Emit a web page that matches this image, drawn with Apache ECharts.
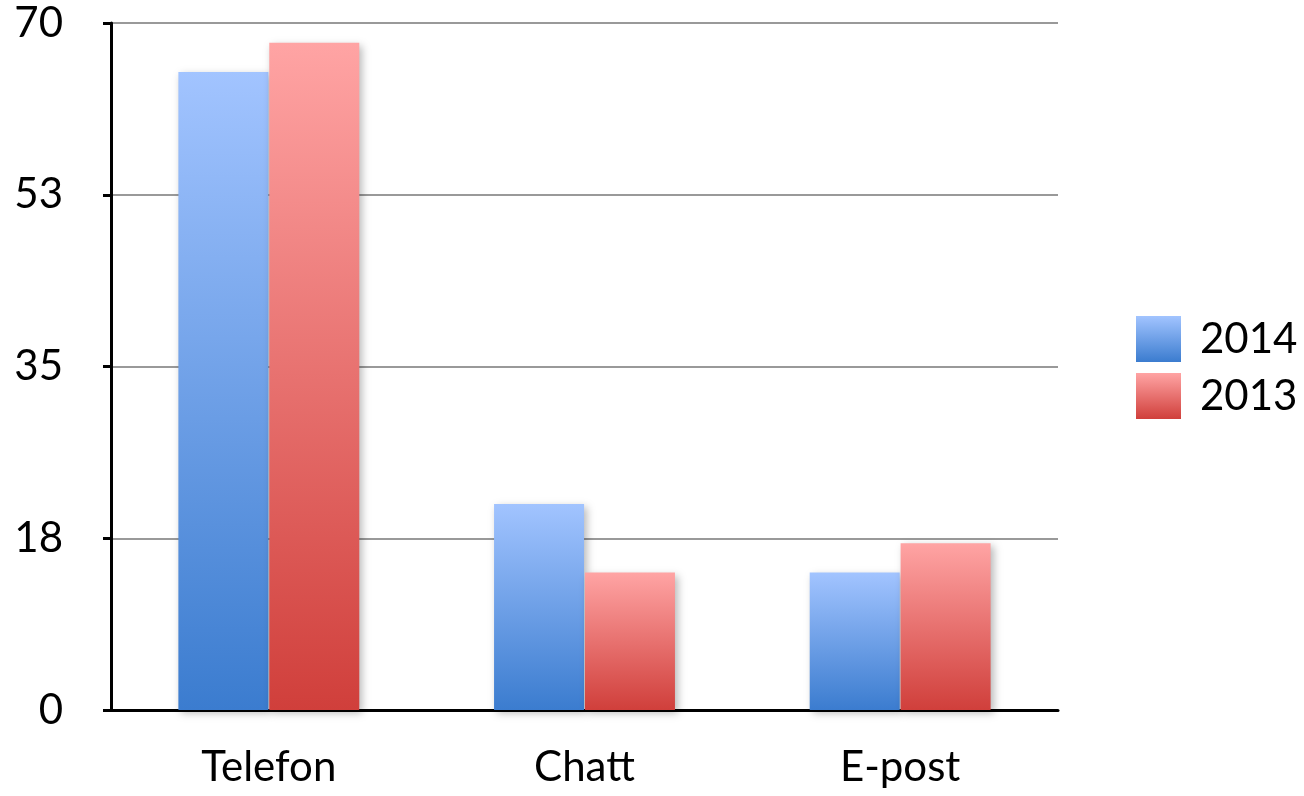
<!DOCTYPE html>
<html>
<head>
<meta charset="utf-8">
<style>
  html, body { margin: 0; padding: 0; background: #fff; }
  #chart { width: 1304px; height: 796px; }
</style>
<script src="https://cdn.jsdelivr.net/npm/echarts@6/dist/echarts.min.js"></script>
</head>
<body>
<div id="chart"></div>
<script>
// Contact channels and yearly values
const categories = ['Telefon', 'Chatt', 'E-post'];
const seriesNames = ['2014', '2013'];
const values2014 = [65, 21, 14];
const values2013 = [68, 14, 17];

const FONT = 'Lato, "Open Sans", sans-serif';

function vGrad(top, bottom) {
  return new echarts.graphic.LinearGradient(0, 0, 0, 1, [
    { offset: 0, color: top },
    { offset: 1, color: bottom }
  ]);
}

const blue = vGrad('#a2c4ff', '#3b7ccf');
const red = vGrad('#ffa4a4', '#d03f3b');

const shadow = {
  shadowBlur: 8,
  shadowColor: 'rgba(0,0,0,0.28)',
  shadowOffsetX: 3,
  shadowOffsetY: 3
};

const chart = echarts.init(document.getElementById('chart'));
chart.setOption({
  animation: false,
  backgroundColor: '#fff',
  grid: { left: 111, right: 246, top: 23, bottom: 86 },
  legend: {
    orient: 'vertical',
    left: 1131,
    top: 311,
    icon: 'rect',
    itemWidth: 45,
    itemHeight: 46,
    itemGap: 11,
    textStyle: { fontFamily: FONT, fontSize: 42, color: '#000', padding: [0, 0, 0, 14] },
    data: seriesNames
  },
  xAxis: {
    type: 'category',
    data: categories,
    axisLine: { lineStyle: { color: '#000', width: 3 } },
    axisTick: { length: 8, lineStyle: { color: '#000', width: 3 } },
    axisLabel: { fontFamily: FONT, fontSize: 42, color: '#000', margin: 36 }
  },
  yAxis: {
    type: 'value',
    min: 0,
    max: 70,
    interval: 17.5,
    axisLine: { show: true, lineStyle: { color: '#000', width: 3 } },
    axisTick: { show: true, length: 8, lineStyle: { color: '#000', width: 3 } },
    axisLabel: {
      fontFamily: FONT, fontSize: 42, color: '#000', margin: 48,
      formatter: v => String(Math.round(v))
    },
    splitLine: { lineStyle: { color: '#999', width: 2 } }
  },
  series: [
    {
      name: seriesNames[0],
      type: 'bar',
      data: values2014,
      barWidth: 90,
      barGap: '1%',
      itemStyle: Object.assign({ color: blue }, shadow)
    },
    {
      name: seriesNames[1],
      type: 'bar',
      data: values2013,
      barWidth: 90,
      barGap: '1%',
      itemStyle: Object.assign({ color: red }, shadow)
    }
  ]
});
</script>
</body>
</html>
